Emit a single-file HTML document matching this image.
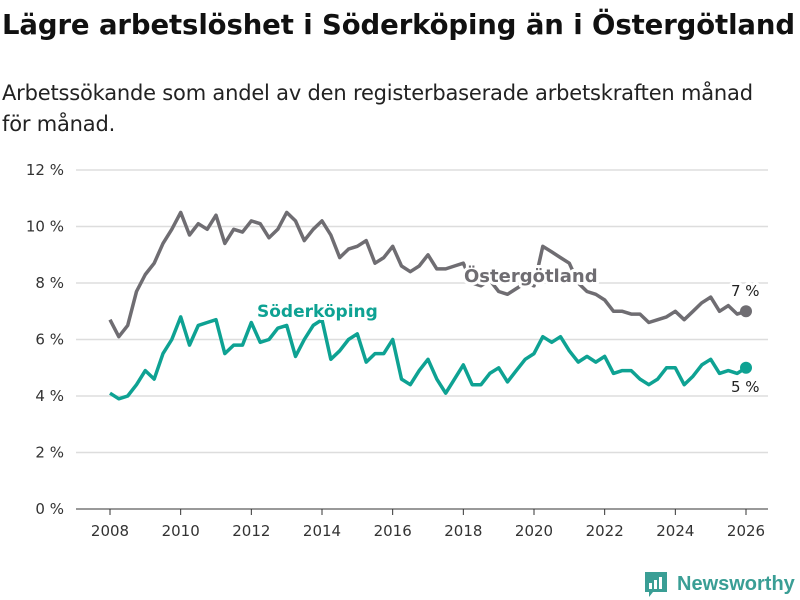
<!DOCTYPE html>
<html><head><meta charset="utf-8">
<style>
body{margin:0;background:#fff;font-family:"DejaVu Sans",sans-serif;}
#wrap{position:relative;width:800px;height:600px;overflow:hidden;}
h1{position:absolute;left:2px;top:9px;margin:0;font-size:27.5px;font-weight:bold;color:#111;letter-spacing:-0.1px;white-space:nowrap;}
.sub{position:absolute;left:2px;top:78px;font-size:21px;color:#222;line-height:31px;width:790px;letter-spacing:-0.2px;}
</style></head><body>
<div id="wrap">
<h1>Lägre arbetslöshet i Söderköping än i Östergötland</h1>
<div class="sub">Arbetssökande som andel av den registerbaserade arbetskraften månad<br>för månad.</div>
<svg id="chart" width="800" height="600" style="position:absolute;left:0;top:0"></svg>
</div>
<script>
const startYear = 2008;
const stepYears = 0.25;
const yTicks = [0,2,4,6,8,10,12];
const xTicks = [2008,2010,2012,2014,2016,2018,2020,2022,2024,2026];
const ostergotland = [6.7,6.1,6.5,7.7,8.3,8.7,9.4,9.9,10.5,9.7,10.1,9.9,10.4,9.4,9.9,9.8,10.2,10.1,9.6,9.9,10.5,10.2,9.5,9.9,10.2,9.7,8.9,9.2,9.3,9.5,8.7,8.9,9.3,8.6,8.4,8.6,9.0,8.5,8.5,8.6,8.7,8.0,7.9,8.1,7.7,7.6,7.8,8.0,7.9,9.3,9.1,8.9,8.7,8.0,7.7,7.6,7.4,7.0,7.0,6.9,6.9,6.6,6.7,6.8,7.0,6.7,7.0,7.3,7.5,7.0,7.2,6.9,7.0];
const soderkoping = [4.1,3.9,4.0,4.4,4.9,4.6,5.5,6.0,6.8,5.8,6.5,6.6,6.7,5.5,5.8,5.8,6.6,5.9,6.0,6.4,6.5,5.4,6.0,6.5,6.7,5.3,5.6,6.0,6.2,5.2,5.5,5.5,6.0,4.6,4.4,4.9,5.3,4.6,4.1,4.6,5.1,4.4,4.4,4.8,5.0,4.5,4.9,5.3,5.5,6.1,5.9,6.1,5.6,5.2,5.4,5.2,5.4,4.8,4.9,4.9,4.6,4.4,4.6,5.0,5.0,4.4,4.7,5.1,5.3,4.8,4.9,4.8,5.0];
const lastLabels = ["7 %","5 %"];

const NS="http://www.w3.org/2000/svg";
const svg=document.getElementById('chart');
const X=y=>110+(y-2008)*(746-110)/18;
const Y=v=>509-v*(509-170)/12;
const FF='DejaVu Sans';
function el(t,a){const e=document.createElementNS(NS,t);for(const k in a)e.setAttribute(k,a[k]);svg.appendChild(e);return e;}
yTicks.forEach(v=>{
  const g=el('line',{x1:76,x2:768,y1:Y(v),y2:Y(v),stroke:v===0?'#333':'#ddd','stroke-width':v===0?1:1.5});
  
  
  const t=el('text',{x:64,y:Y(v)+5,'text-anchor':'end','font-size':15,fill:'#333','font-family':FF});
  t.textContent=v+' %';
  
  
});
xTicks.forEach(y=>{
  const l=el('line',{x1:X(y),x2:X(y),y1:509,y2:515,stroke:'#333'});
  
  
  const t=el('text',{x:X(y),y:536,'text-anchor':'middle','font-size':15,fill:'#333','font-family':FF});
  t.textContent=y;
  
  
});
function series(data,color,name){
  const d=data.map((v,i)=>(i?'L':'M')+X(startYear+i*stepYears).toFixed(1)+','+Y(v).toFixed(1)).join('');
  const p=el('path',{d:d,fill:'none',stroke:color,'stroke-width':3.5,'stroke-linejoin':'round'});
  
  
  const n=data.length-1;
  const c=el('circle',{cx:X(startYear+n*stepYears),cy:Y(data[n]),r:6,fill:color});
  
  
}
series(ostergotland,'#6f6d72','ostergotland');
series(soderkoping,'#0ea293','soderkoping');
function label(x,y,txt,color,name,size,bold,halo,ff){
  const t=el('text',{x:x,y:y,'font-size':size,'font-weight':bold?'bold':'normal',fill:color,'font-family':ff||FF,stroke:halo?'#fff':'none','stroke-width':halo?6:0,'paint-order':'stroke','stroke-linejoin':'round'});
  t.textContent=txt;
  
  
}
label(464,282,'Östergötland','#6f6d72','ostergotland-label',18,true,true);
label(257,317,'Söderköping','#0ea293','soderkoping-label',17,true,true);
label(731,296,lastLabels[0],'#222','ostergotland-last-value',15,false,true);
label(731,392,lastLabels[1],'#222','soderkoping-last-value',15,false,true);
const lg=el('g',{});


const r=document.createElementNS(NS,'path');
r.setAttribute('d','M645 572h22v20h-14l-4 5v-5h-4z');r.setAttribute('fill','#3a9e95');lg.appendChild(r);
[[649,583,3,6],[654,580,3,9],[659,577,3,12]].forEach(b=>{const q=document.createElementNS(NS,'rect');q.setAttribute('x',b[0]);q.setAttribute('y',b[1]);q.setAttribute('width',b[2]);q.setAttribute('height',b[3]);q.setAttribute('fill','#fff');lg.appendChild(q);});
svg.appendChild(lg);
label(677,590,'Newsworthy','#3a9e95','newsworthy-wordmark',20,true,false,'Liberation Sans');
</script>
</body></html>
